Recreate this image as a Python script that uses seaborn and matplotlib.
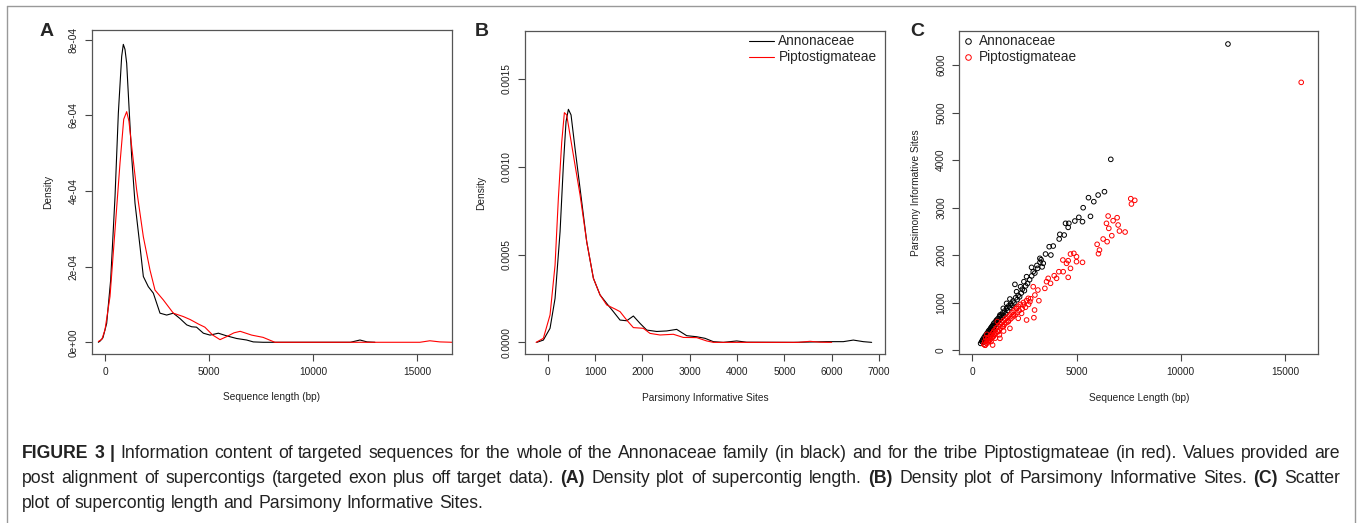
import numpy as np
import pandas as pd
import matplotlib.pyplot as plt
import seaborn as sns
from matplotlib.lines import Line2D

# ── Data ───────────────────────────────────────────────────
GROUPS = ['Annonaceae', 'Piptostigmateae']
PAL = {'Annonaceae': 'black', 'Piptostigmateae': 'red'}

# (A) density of supercontig length, density in units of 1e-4
lenA_ann_x = [-320, -240, -100, 80, 272, 481, 641, 801, 880, 960, 1042, 1170, 1282,
              1442, 1683, 1843, 2083, 2323, 2644, 2965, 3285, 3600, 3930, 4170, 4400,
              4730, 5050, 5450, 5850, 6330, 6810, 7130, 7600, 9000, 11000, 11800,
              12260, 12600, 12980]
lenA_ann_y = [0, 0.03, 0.12, 0.50, 1.65, 3.85, 6.06, 7.56, 7.88, 7.75, 7.38, 6.06, 4.91,
              3.68, 2.53, 1.74, 1.47, 1.30, 0.77, 0.72, 0.77, 0.63, 0.46, 0.41, 0.40,
              0.24, 0.19, 0.24, 0.17, 0.10, 0.06, 0.01, 0, 0, 0, 0,
              0.06, 0.01, 0]
lenA_pip_x = [-320, -150, 0, 240, 481, 721, 900, 1042, 1150, 1282, 1522, 1843, 2163,
              2404, 2804, 3285, 3766, 4100, 4500, 4800, 5180, 5530, 5850, 6200, 6500,
              7050, 7600, 8170, 10000, 15140, 15620, 16100, 16700]
lenA_pip_y = [0.02, 0.08, 0.33, 1.21, 2.97, 4.74, 5.90, 6.10, 5.85, 5.18, 4.03, 2.79, 1.91,
              1.38, 1.12, 0.77, 0.68, 0.60, 0.48, 0.40, 0.19, 0.07, 0.15, 0.25, 0.29,
              0.19, 0.13, 0, 0, 0, 0.04, 0.01, 0]

# (B) density of parsimony informative sites, density in units of 1e-4
pisB_ann_x = [-232, -92, 49, 155, 261, 331, 387, 437, 493, 577, 683, 824, 965, 1106,
              1246, 1387, 1528, 1669, 1810, 1951, 2092, 2303, 2514, 2725, 2937, 3148,
              3324, 3500, 3711, 3993, 4204, 5190, 5894, 6246, 6458, 6669, 6845]
pisB_ann_y = [0, 0.13, 0.80, 2.50, 6.30, 10.1, 12.57, 13.27, 12.95, 11.05, 8.77, 5.73,
              3.65, 2.70, 2.22, 1.75, 1.27, 1.23, 1.50, 1.08, 0.70, 0.62, 0.65, 0.74,
              0.38, 0.32, 0.23, 0.04, 0, 0.08, 0.01, 0, 0.04, 0.04, 0.13, 0.04, 0]
pisB_pip_x = [-246, -92, 49, 155, 225, 296, 352, 401, 472, 577, 683, 824, 965, 1106,
              1246, 1422, 1528, 1669, 1810, 2020, 2162, 2373, 2655, 2866, 3148, 3359,
              3500, 5300, 5542, 5753, 6000]
pisB_pip_y = [0, 0.23, 1.56, 4.40, 8.20, 11.4, 13.08, 12.95, 11.8, 10.1, 8.40, 5.73,
              3.65, 2.70, 2.13, 1.90, 1.75, 1.27, 0.84, 0.80, 0.51, 0.42, 0.46, 0.28,
              0.27, 0.08, 0, 0, 0.06, 0.01, 0]

# (C) supercontig length vs parsimony informative sites
ann_len = [12268, 6645, 6342, 6038, 5830, 5575, 5671, 5319, 5288, 5112, 4920, 4633,
           4473, 4600, 4409, 4201, 4169, 3882, 3690, 3770, 3514, 3403, 3243, 3131,
           2923, 2843, 2604, 2476, 2316, 2125, 2045, 1805, 1645, 1486, 1326, 1166,
           1006, 815, 655, 495, 399,
           450, 500, 520, 560, 600, 620, 650, 680, 700, 720, 750, 780, 800, 820, 850,
           880, 900, 930, 950, 980, 1000, 1030, 1060, 1100, 1130, 1160, 1200, 1230,
           1260, 1300, 1340, 1380, 1420, 1460, 1500, 1550, 1600, 1650, 1700, 1750,
           1800, 1850, 1900, 1950, 2000, 2080, 2150, 2200, 2270, 2350, 2400, 2500,
           2560, 2650, 2750, 2850, 3000, 3100, 3250, 3350, 3300]
ann_pis = [6442, 4014, 3333, 3263, 3123, 3207, 2814, 2996, 2702, 2793, 2716, 2667,
           2667, 2582, 2421, 2435, 2337, 2189, 2175, 2000, 2021, 1825, 1930, 1719,
           1649, 1740, 1544, 1439, 1333, 1228, 1382, 1074, 982, 877, 737, 611,
           512, 386, 281, 189, 140,
           180, 220, 160, 260, 230, 300, 200, 330, 280, 360, 310, 400, 350, 420, 380,
           460, 410, 490, 440, 520, 470, 560, 500, 590, 540, 630, 580, 660,
           610, 700, 650, 740, 690, 780, 720, 820, 760, 880, 830, 930,
           890, 970, 940, 1030, 990, 1100, 1060, 1150, 1120, 1200, 1280, 1250,
           1350, 1400, 1480, 1560, 1620, 1780, 1850, 1750, 1900]
pip_len = [15783, 7604, 7796, 7636, 6518, 6949, 6757, 6438, 6550, 6997, 7061, 7332,
           6693, 6278, 6470, 5990, 6102, 6054, 5288, 5000, 4872, 4712, 5000, 4601,
           4345, 4521, 4712, 4601, 4361, 4153, 3930, 3642, 4042, 3754, 3482, 3562,
           3147, 2923, 3003, 2684, 3195, 2604, 2987, 2955, 2444, 2125, 1965, 1725,
           1486, 1246, 1006, 767, 607, 974, 1326, 1805, 2204, 2364, 2764,
           550, 600, 620, 680, 700, 740, 760, 800, 820, 860, 880, 920, 950, 980,
           1000, 1030, 1060, 1100, 1130, 1160, 1200, 1240, 1280, 1320, 1360, 1400,
           1450, 1500, 1550, 1600, 1650, 1700, 1750, 1800, 1850, 1900, 1950, 2000,
           2050, 2100, 2150, 2200, 2250, 2300, 2400, 2450, 2550, 2600, 2700, 2800,
           900, 1100, 1300, 1500, 700, 1200, 650]
pip_pis = [5635, 3186, 3151, 3074, 2821, 2786, 2723, 2667, 2561, 2632, 2505, 2484,
           2407, 2337, 2281, 2225, 2105, 2028, 1846, 1860, 2035, 2021, 1965, 1881,
           1895, 1825, 1719, 1530, 1649, 1649, 1565, 1509, 1509, 1404, 1298, 1439,
           1263, 1333, 1158, 1088, 1039, 632, 842, 681, 947, 877, 737, 597,
           491, 386, 281, 189, 105, 105, 246, 456, 667, 772, 1018,
           120, 180, 100, 200, 140, 240, 170, 260, 200, 300, 230, 330, 260, 360,
           300, 400, 330, 430, 360, 470, 390, 500, 420, 540, 460, 580,
           500, 620, 540, 660, 580, 700, 620, 740, 660, 790, 700, 830,
           740, 880, 790, 920, 830, 960, 870, 1000, 900, 1040, 960, 1080,
           180, 250, 320, 400, 330, 600, 260]

A_XTICKS = [0, 5000, 10000, 15000]
A_YTICKS = [0, 2e-4, 4e-4, 6e-4, 8e-4]
A_YLABELS = ['0e+00', '2e-04', '4e-04', '6e-04', '8e-04']
B_XTICKS = [0, 1000, 2000, 3000, 4000, 5000, 6000, 7000]
B_YTICKS = [0, 0.0005, 0.0010, 0.0015]
B_YLABELS = ['0.0000', '0.0005', '0.0010', '0.0015']
C_XTICKS = [0, 5000, 10000, 15000]
C_YTICKS = [0, 1000, 2000, 3000, 4000, 5000, 6000]

CAPTION = [
    "**FIGURE **3 **| Information content of targeted sequences for the whole of the "
    "Annonaceae family (in black) and for the tribe Piptostigmateae (in red). Values provided are",
    "post alignment of supercontigs (targeted exon plus off target data). **(A) Density plot "
    "of supercontig length. **(B) Density plot of Parsimony Informative Sites. **(C) Scatter",
    "plot of supercontig length and Parsimony Informative Sites.",
]

# ── Tables ─────────────────────────────────────────────────
dfA = pd.concat([
    pd.DataFrame({'x': lenA_ann_x, 'density': np.array(lenA_ann_y) * 1e-4, 'group': GROUPS[0]}),
    pd.DataFrame({'x': lenA_pip_x, 'density': np.array(lenA_pip_y) * 1e-4, 'group': GROUPS[1]}),
])
dfB = pd.concat([
    pd.DataFrame({'x': pisB_ann_x, 'density': np.array(pisB_ann_y) * 1e-4, 'group': GROUPS[0]}),
    pd.DataFrame({'x': pisB_pip_x, 'density': np.array(pisB_pip_y) * 1e-4, 'group': GROUPS[1]}),
])
dfC = pd.concat([
    pd.DataFrame({'length': ann_len, 'pis': ann_pis, 'group': GROUPS[0]}),
    pd.DataFrame({'length': pip_len, 'pis': pip_pis, 'group': GROUPS[1]}),
])

# ── Figure ─────────────────────────────────────────────────
W, H = 1358, 523
sns.set_theme(style='ticks')
plt.rcParams['font.family'] = ['Liberation Sans', 'DejaVu Sans']

fig = plt.figure(figsize=(W / 100, H / 100), dpi=100)
fig.patch.set_facecolor('white')


def px_axes(left, top, right, bottom):
    return fig.add_axes([left / W, 1 - bottom / H, (right - left) / W, (bottom - top) / H])


def r_style(ax, xticks, yticks, ylabels=None):
    for s in ax.spines.values():
        s.set_visible(True)
        s.set_color('#555555')
        s.set_linewidth(0.9)
    ax.set_facecolor('white')
    ax.tick_params(direction='out', length=5, width=0.8, colors='#444444',
                   labelsize=7.3, labelcolor='#222222', pad=4.5)
    ax.set_xticks(xticks)
    ax.set_yticks(yticks)
    ax.set_xticklabels([str(t) for t in xticks])
    ax.set_yticklabels(ylabels if ylabels else [str(t) for t in yticks])
    plt.setp(ax.get_yticklabels(), rotation=90, va='center')


lab_kw = dict(fontsize=7.3, color='#222222', labelpad=11)

# A
axA = px_axes(91.7, 30, 451.7, 354)
sns.lineplot(data=dfA, x='x', y='density', hue='group', palette=PAL, estimator=None,
             linewidth=0.8, legend=False, ax=axA)
axA.set_xlim(-640, 16670)
axA.set_ylim(-3.1e-5, 8.26e-4)
r_style(axA, A_XTICKS, A_YTICKS, A_YLABELS)
axA.set_xlabel('Sequence length (bp)', **lab_kw)
axA.set_ylabel('Density', **lab_kw)

# B
axB = px_axes(525, 31, 885, 354.3)
sns.lineplot(data=dfB, x='x', y='density', hue='group', palette=PAL, estimator=None,
             linewidth=0.8, ax=axB)
axB.set_xlim(-480, 7127)
axB.set_ylim(-6.8e-5, 0.001773)
r_style(axB, B_XTICKS, B_YTICKS, B_YLABELS)
axB.set_xlabel('Parsimony Informative Sites', **lab_kw)
axB.set_ylabel('Density', **lab_kw)
h, l = axB.get_legend_handles_labels()
axB.legend(h, l, loc='upper right', frameon=False, fontsize=9.8, handlelength=1.8,
           handletextpad=0.35, borderaxespad=0.1, labelspacing=0.15, borderpad=0.15,
           bbox_to_anchor=(0.986, 1.0))

# C
axC = px_axes(959.3, 31, 1318.3, 354.3)
sns.scatterplot(data=dfC, x='length', y='pis', hue='group', palette=PAL, s=11,
                linewidth=0.7, legend=False, ax=axC)
for coll in axC.collections:
    fc = coll.get_facecolors()
    coll.set_edgecolors(fc)
    coll.set_facecolors('none')
axC.set_xlim(-624, 16603)
axC.set_ylim(-90, 6716)
r_style(axC, C_XTICKS, C_YTICKS)
axC.set_xlabel('Sequence Length (bp)', **lab_kw)
axC.set_ylabel('Parsimony Informative Sites', **lab_kw)
handles = [Line2D([], [], ls='none', marker='o', mfc='none', mec=PAL[g], ms=4, mew=0.7)
           for g in GROUPS]
axC.legend(handles, GROUPS, loc='upper left', frameon=False, fontsize=9.8,
           handlelength=0.8, handletextpad=0.4, borderaxespad=0.1, labelspacing=0.15,
           borderpad=0.15)

# panel letters
for letter, x in [('A', 47), ('B', 482), ('C', 917)]:
    fig.text(x / W, 1 - 31 / H, letter, fontsize=14, fontweight='bold',
             ha='center', va='center')

# outer frame
for xs, ys in [([7, 7], [6, 523]), ([7, 1355], [6, 6]), ([1355, 1355], [6, 523])]:
    fig.add_artist(Line2D([x / W for x in xs], [1 - y / H for y in ys],
                          color='#999999', lw=1.0))

# caption, justified like the journal layout
CAP_SIZE = 12.7
renderer = fig.canvas.get_renderer()
X0, X1 = 22, 1340
baselines = [458, 483, 508]
for i, line in enumerate(CAPTION):
    words = []
    for w in line.split(' '):
        bold = w.startswith('**')
        words.append((w.lstrip('*'), bold))
    texts = []
    total = 0
    for w, bold in words:
        t = fig.text(0, 1 - baselines[i] / H, w, fontsize=CAP_SIZE,
                     fontweight='bold' if bold else 'normal', va='baseline',
                     color='#222222')
        wd = t.get_window_extent(renderer).width
        texts.append((t, wd))
        total += wd
    if i < len(CAPTION) - 1:
        gap = (X1 - X0 - total) / (len(words) - 1)
    else:
        gap = 0.278 * CAP_SIZE / 72 * 100
    x = X0
    for t, wd in texts:
        t.set_x(x / W)
        x += wd + gap

fig.savefig('out.png', dpi=100, facecolor='white')
